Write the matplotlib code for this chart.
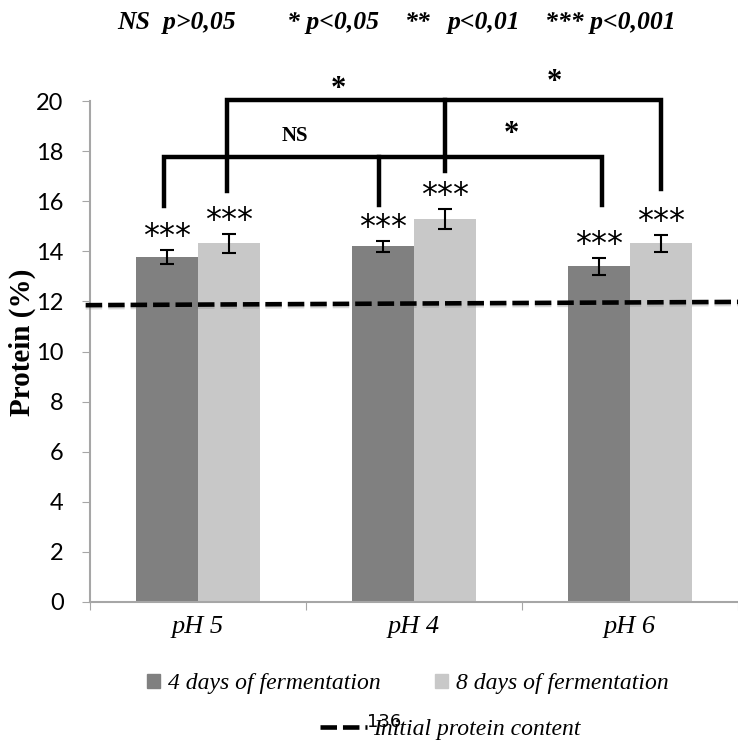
import matplotlib
matplotlib.use("Agg")
import matplotlib.pyplot as plt
import matplotlib.patheffects as pe
from matplotlib.patches import Patch
from matplotlib.lines import Line2D
import numpy as np

categories = ["pH 5", "pH 4", "pH 6"]
series_names = ["4 days of fermentation", "8 days of fermentation"]
protein_4d = [13.77, 14.21, 13.41]
protein_8d = [14.33, 15.29, 14.33]
err_4d = [0.28, 0.22, 0.34]
err_8d = [0.38, 0.40, 0.34]
sig_4d = ["***", "***", "***"]
sig_8d = ["***", "***", "***"]
initial_protein = [11.85, 11.98]  # left edge, right edge
yticks = [0, 2, 4, 6, 8, 10, 12, 14, 16, 18, 20]

dark = "#808080"
light = "#c8c8c8"
axis_gray = "#a6a6a6"

fig = plt.figure(figsize=(7.38, 7.44), dpi=100)
ax = fig.add_axes([90/738, 1-602/744, 1-90/738, (602-101)/744])

x = np.arange(len(categories))
w = 0.287
off = 0.144
ax.bar(x - off, protein_4d, w, color=dark, zorder=2)
ax.bar(x + off, protein_8d, w, color=light, zorder=2)
ax.errorbar(x - off, protein_4d, yerr=err_4d, fmt="none", ecolor="black",
            elinewidth=1.5, capsize=5, capthick=1.5, zorder=4)
ax.errorbar(x + off, protein_8d, yerr=err_8d, fmt="none", ecolor="black",
            elinewidth=1.5, capsize=5, capthick=1.5, zorder=4)

for xi, v, e, s in zip(x - off, protein_4d, err_4d, sig_4d):
    ax.text(xi, v + e + 0.2, s, ha="center", va="baseline", fontsize=23,
            family="DejaVu Sans", zorder=5)
for xi, v, e, s in zip(x + off, protein_8d, err_8d, sig_8d):
    ax.text(xi, v + e + 0.2, s, ha="center", va="baseline", fontsize=23,
            family="DejaVu Sans", zorder=5)

# initial protein content dashed line
ax.plot([-0.52, 2.5], initial_protein, color="black", lw=3.3,
        dashes=(3.6, 1.3), zorder=6, clip_on=False,
        path_effects=[pe.SimpleLineShadow(offset=(0, -1.5), shadow_color="gray", alpha=0.3),
                      pe.Normal()])

# significance brackets
blw = 3.2
lower_y = 17.75
upper_y = 20.05
# lower bracket (4 days)
ax.plot([x[0]-off-0.015, x[0]-off-0.015, x[2]-off+0.015, x[2]-off+0.015],
        [15.8, lower_y, lower_y, 15.85], color="black", lw=blw, clip_on=False,
        solid_joinstyle="miter", zorder=7)
ax.plot([x[1]-off-0.02, x[1]-off-0.02], [lower_y, 15.85], color="black", lw=blw,
        clip_on=False, zorder=7)
# upper bracket (8 days)
ax.plot([x[0]+off-0.01, x[0]+off-0.01, x[2]+off, x[2]+off],
        [16.4, upper_y, upper_y, 16.5], color="black", lw=blw, clip_on=False,
        solid_joinstyle="miter", zorder=7)
ax.plot([x[1]+off, x[1]+off], [upper_y, 17.2], color="black", lw=blw,
        clip_on=False, zorder=7)

bfont = dict(family="Liberation Serif", fontweight="bold")
ax.text(0.65, 20.17, "*", ha="center", va="baseline", fontsize=22, **bfont)
ax.text(1.65, 20.44, "*", ha="center", va="baseline", fontsize=22, **bfont)
ax.text(0.45, 18.4, "NS", ha="center", va="baseline", fontsize=15, **bfont)
ax.text(1.45, 18.35, "*", ha="center", va="baseline", fontsize=22, **bfont)

ax.set_xlim(-0.5, 2.5)
ax.set_ylim(0, 20)
ax.set_yticks(yticks)
ax.set_yticklabels([str(t) for t in yticks], fontsize=17, family="Lato")
ax.set_xticks([-0.5, 0.5, 1.5, 2.5], minor=False)
ax.set_xticklabels([])
ax.set_xticks(x, minor=True)
ax.set_xticklabels(categories, minor=True, fontsize=19, family="Liberation Serif",
                   style="italic")
ax.tick_params(axis="x", which="minor", length=0, pad=10)
ax.tick_params(axis="x", which="major", length=6, color=axis_gray, direction="out")
ax.tick_params(axis="y", length=6, color=axis_gray, pad=13, direction="out")
for s in ["top", "right"]:
    ax.spines[s].set_visible(False)
for s in ["left", "bottom"]:
    ax.spines[s].set_color(axis_gray)
    ax.spines[s].set_linewidth(1.5)

fig.text(22/738, 1-342/744, "Protein (%)", rotation=90, ha="center", va="center",
         fontsize=21, **bfont)

tfont = dict(family="Liberation Serif", fontweight="bold", style="italic", fontsize=18.5)
ty = 1 - 23/744
fig.text(117/738, ty, "NS  p>0,05", ha="left", va="center", **tfont)
fig.text(287/738, ty, "* p<0,05", ha="left", va="center", **tfont)
fig.text(405/738, ty, "**", ha="left", va="center", **tfont)
fig.text(448/738, ty, "p<0,01", ha="left", va="center", **tfont)
fig.text(545/738, ty, "*** p<0,001", ha="left", va="center", **tfont)

lfont = dict(family="Liberation Serif", style="italic", size=17)
h1 = [Patch(color=dark), Patch(color=light)]
leg1 = fig.legend(h1, series_names, loc="center", bbox_to_anchor=(408/738, 1-684/744),
                  ncol=2, frameon=False, prop=lfont, handlelength=0.55, handleheight=0.55,
                  handletextpad=0.35, columnspacing=2.3)
h2 = [Line2D([0], [0], color="black", lw=3.3, dashes=(3.6, 1.3))]
leg2 = fig.legend(h2, ["Initial protein content"], loc="center",
                  bbox_to_anchor=(450/738, 1-729/744), frameon=False, prop=lfont,
                  handlelength=2.0, handletextpad=0.25)
fig.text(384/738, 1-722/744, "136", ha="center", va="center", fontsize=13,
         family="DejaVu Sans")

fig.savefig("out.png", dpi=100)
